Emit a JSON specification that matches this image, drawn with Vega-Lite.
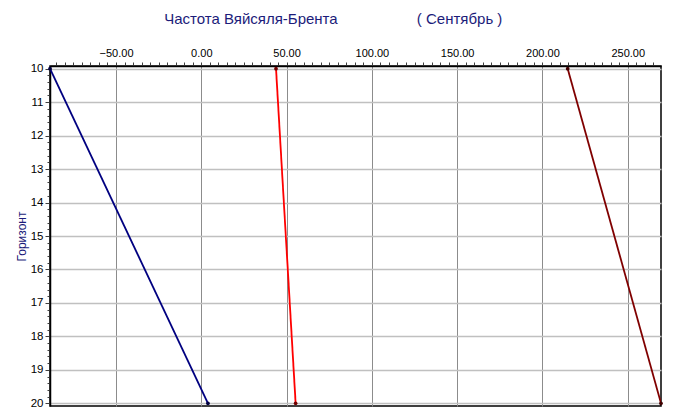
{
  "$schema": "https://vega.github.io/schema/vega-lite/v6.json",
  "width": 611,
  "height": 340,
  "autosize": {"type": "none"},
  "padding": {"left": 50, "top": 66, "right": 14, "bottom": 13},
  "background": "white",
  "config": {
    "font": "Liberation Sans",
    "view": {"stroke": "black", "strokeWidth": 1.5}
  },
  "title": {
    "text": "Частота Вяйсяля-Брента\u00a0\u00a0\u00a0\u00a0\u00a0\u00a0\u00a0\u00a0\u00a0\u00a0\u00a0\u00a0\u00a0\u00a0\u00a0\u00a0\u00a0\u00a0\u00a0( Сентябрь )",
    "anchor": "start",
    "dx": 149,
    "offset": 20,
    "fontSize": 15,
    "fontWeight": "normal",
    "color": "#1c1c7a",
    "font": "Liberation Sans"
  },
  "data": {
    "values": [
      {"series": "s1", "x": -88.7, "y": 10},
      {"series": "s1", "x": 3.9, "y": 20},
      {"series": "s2", "x": 43.8, "y": 10},
      {"series": "s2", "x": 55.3, "y": 20},
      {"series": "s3", "x": 214.8, "y": 10},
      {"series": "s3", "x": 269.5, "y": 20}
    ]
  },
  "encoding": {
    "x": {
      "field": "x",
      "type": "quantitative",
      "scale": {"domain": [-88.7, 269.5], "nice": false, "zero": false},
      "axis": {
        "orient": "top",
        "title": null,
        "values": [-85,-80,-75,-70,-65,-60,-55,-50,-45,-40,-35,-30,-25,-20,-15,-10,-5,0,5,10,15,20,25,30,35,40,45,50,55,60,65,70,75,80,85,90,95,100,105,110,115,120,125,130,135,140,145,150,155,160,165,170,175,180,185,190,195,200,205,210,215,220,225,230,235,240,245,250,255,260,265],
        "labelExpr": "datum.value % 50 === 0 ? format(datum.value, '.2f') : ''",
        "labelOverlap": false,
        "labelFlush": false,
        "labelFontSize": 11,
        "labelColor": "black",
        "labelPadding": 4,
        "tickSize": 4,
        "tickColor": "#404040",
        "domainColor": "black",
        "domainWidth": 1.5,
        "grid": true,
        "gridColor": "#8c8c8c",
        "gridWidth": 1,
        "gridOpacity": {"condition": {"test": "datum.value % 50 === 0", "value": 1}, "value": 0}
      }
    },
    "y": {
      "field": "y",
      "type": "quantitative",
      "scale": {"domain": [9.92, 20.08], "nice": false, "zero": false, "reverse": true},
      "axis": {
        "title": "Горизонт",
        "titleColor": "#1c1c7a",
        "titleFontSize": 12,
        "titleFontWeight": "normal",
        "titlePadding": 2,
        "values": [10,10.2,10.4,10.6,10.8,11,11.2,11.4,11.6,11.8,12,12.2,12.4,12.6,12.8,13,13.2,13.4,13.6,13.8,14,14.2,14.4,14.6,14.8,15,15.2,15.4,15.6,15.8,16,16.2,16.4,16.6,16.8,17,17.2,17.4,17.6,17.8,18,18.2,18.4,18.6,18.8,19,19.2,19.4,19.6,19.8,20],
        "labelExpr": "abs(datum.value - round(datum.value)) < 0.001 ? format(datum.value, 'd') : ''",
        "labelOverlap": false,
        "labelFlush": false,
        "labelFontSize": 11.5,
        "labelColor": "black",
        "labelPadding": 2,
        "tickSize": {"condition": {"test": "abs(datum.value - round(datum.value)) < 0.001", "value": 5}, "value": 3},
        "tickColor": "#404040",
        "domainColor": "black",
        "domainWidth": 1.5,
        "grid": true,
        "gridColor": "#c0c0c0",
        "gridWidth": 1.5,
        "gridOpacity": {"condition": {"test": "abs(datum.value - round(datum.value)) < 0.001", "value": 1}, "value": 0}
      }
    }
  },
  "layer": [
    {
      "mark": {"type": "line", "strokeWidth": 1.8, "clip": true},
      "encoding": {
        "detail": {"field": "series"},
        "color": {
          "field": "series",
          "type": "nominal",
          "scale": {"domain": ["s1", "s2", "s3"], "range": ["#000080", "#ff0000", "#800000"]},
          "legend": null
        }
      }
    },
    {
      "mark": {"type": "point", "filled": true, "size": 14, "opacity": 1},
      "encoding": {
        "color": {
          "field": "series",
          "type": "nominal",
          "scale": {"domain": ["s1", "s2", "s3"], "range": ["#000040", "#700000", "#400000"]},
          "legend": null
        }
      }
    }
  ],
  "resolve": {"scale": {"color": "independent"}}
}
